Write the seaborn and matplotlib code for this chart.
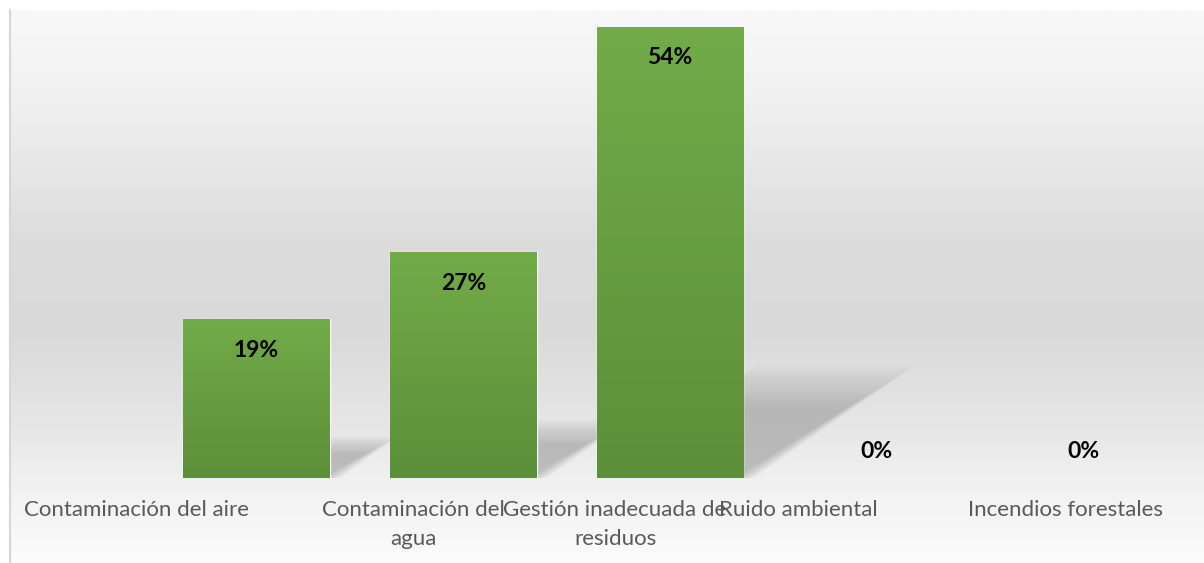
import numpy as np
import matplotlib
matplotlib.use("Agg")
import matplotlib.pyplot as plt
import seaborn as sns
from matplotlib.patches import Polygon
from matplotlib.lines import Line2D
from matplotlib.colors import LinearSegmentedColormap

# ---- data ----
categories = ["Contaminación del aire", "Contaminación del agua",
              "Gestión inadecuada de residuos", "Ruido ambiental",
              "Incendios forestales"]
values = [19, 27, 54, 0, 0]
value_labels = ["19%", "27%", "54%", "0%", "0%"]
tick_labels = ["Contaminación del aire", "Contaminación del\nagua",
               "Gestión inadecuada de\nresiduos", "Ruido ambiental",
               "Incendios forestales"]

# ---- layout ----
W, H = 1204, 563
sns.set_theme(style="white")
plt.rcParams['font.family'] = ['Lato', 'DejaVu Sans']

fig = plt.figure(figsize=(W / 100, H / 100), dpi=100)
fig.patch.set_facecolor("white")

# background gradient (chart area)
bg = fig.add_axes([10 / W, 0, 1 - 10 / W, 553 / H])
bg.axis("off")
bg_cmap = LinearSegmentedColormap.from_list(
    "bg", [(0.0, "#f8f8f8"), (0.15, "#f1f1f1"), (0.42, "#dcdcdc"),
           (0.58, "#d9d9d9"), (0.75, "#e6e6e6"), (0.87, "#f2f2f2"),
           (1.0, "#fbfbfb")])
bg.imshow(np.linspace(0, 1, 256)[:, None], aspect="auto", cmap=bg_cmap,
          extent=[0, 1, 1, 0])
bg.set_xlim(0, 1)
bg.set_ylim(1, 0)
fig.add_artist(Line2D([9.5 / W, 9.5 / W], [0, 553 / H], color="#d6d6d6", lw=1.5))

ax = fig.add_axes([10 / W, 85 / H, 1194 / W, 468 / H])
ax.patch.set_alpha(0)

sns.barplot(x=categories, y=values, color="#66a043", saturation=1,
            width=0.71, ax=ax, zorder=3)

xlim = (-1.193, 4.584)
ylim = (0, 56.0)

bar_cmap = LinearSegmentedColormap.from_list("bar", ["#5c8f3a", "#72ab48"])
for p, lab in zip(ax.patches, value_labels):
    x0, w, h = p.get_x(), p.get_width(), p.get_height()
    if h > 0:
        # soft perspective shadow
        dx = 0.77 * h / 54
        top = 0.24 * h
        n = 14
        for k in range(n):
            s = k / n
            e = 0.06 * (1 - s)
            f = 1 - 0.4 * s
            poly = Polygon([(x0 + 0.02 + s * 0.06, 0),
                            (x0 + w - 0.01 + e - s * 0.04, 0),
                            (x0 + w + e + dx * f, top * f + e * 8),
                            (x0 + dx * f, top * f + e * 8)],
                           closed=True, facecolor="#8c8c8c", edgecolor="none",
                           alpha=0.045, zorder=2)
            ax.add_patch(poly)
        im = ax.imshow(np.linspace(0, 1, 128)[:, None], cmap=bar_cmap,
                       aspect="auto", extent=[x0, x0 + w, 0, h],
                       origin="lower", zorder=4)
        im.set_clip_path(p)
    off = -31 if h > 0 else 26
    ax.annotate(lab, (x0 + w / 2, h), xytext=(0, off),
                textcoords="offset pixels", ha="center", va="center",
                fontsize=16.5, fontweight="bold", color="black", zorder=6)

ax.set_xlim(*xlim)
ax.set_ylim(*ylim)

tick_centers_px = [136, 413, 615, 798, 1065]
tick_pos = [xlim[0] + (px - 10) / 1194 * (xlim[1] - xlim[0]) for px in tick_centers_px]
ax.set_xticks(tick_pos)
ax.set_xticklabels(tick_labels, fontsize=16, color="#595959", linespacing=1.55)
ax.tick_params(axis="x", length=0, pad=16)
ax.set_yticks([])
ax.set_xlabel("")
ax.set_ylabel("")
for s in ax.spines.values():
    s.set_visible(False)

fig.savefig("out.png", dpi=100, facecolor="white")
